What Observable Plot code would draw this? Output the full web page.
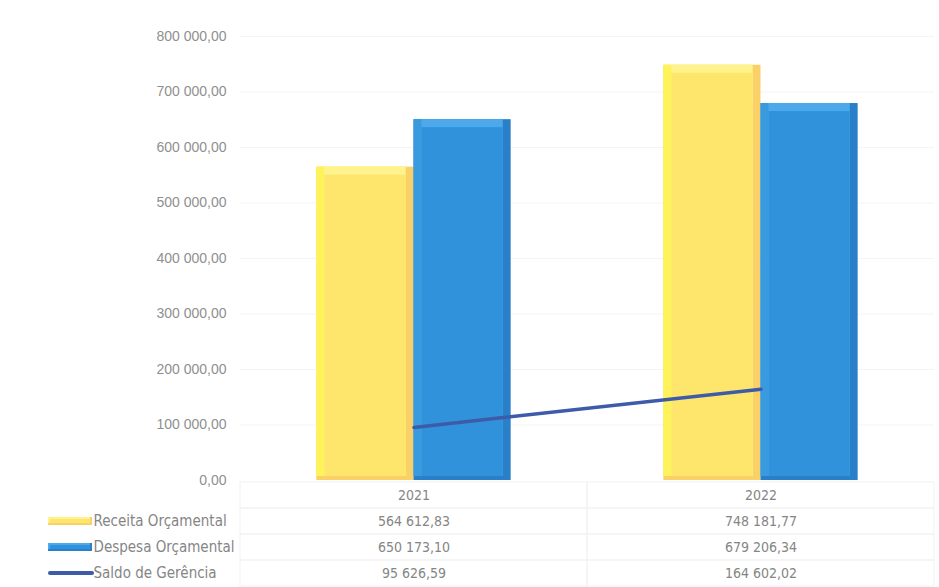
<!DOCTYPE html>
<html>
<head>
<meta charset="utf-8">
<script src="https://cdn.jsdelivr.net/npm/d3@7"></script>
<script src="https://cdn.jsdelivr.net/npm/@observablehq/plot@0.6"></script>
<style>
  html, body { margin: 0; padding: 0; background: #fff; }
  #wrap { position: relative; width: 939px; height: 587px; overflow: hidden; }
  #wrap svg { position: absolute; left: 0; }
</style>
</head>
<body>
<div id="wrap"></div>
<script>
const years = [2021, 2022];
const seriesNames = ["Receita Orçamental", "Despesa Orçamental", "Saldo de Gerência"];
const receita = [564612.83, 748181.77];
const despesa = [650173.10, 679206.34];
const saldo = [95626.59, 164602.02];
const yTicks = [0, 100000, 200000, 300000, 400000, 500000, 600000, 700000, 800000];

const locale = d3.formatLocale({decimal: ",", thousands: " ", grouping: [3], currency: ["", ""]});
const fmt = locale.format(",.2f");

const barW = 0.28;
const receitaData = years.map((y, i) => ({year: y, v: receita[i]}));
const despesaData = years.map((y, i) => ({year: y, v: despesa[i]}));
const saldoData = years.map((y, i) => ({year: y, v: saldo[i]}));

const Y = {dark: "#f9d168", light: "#fff35a", top: "#fff38e", main: "#fee56c"};
const B = {dark: "#2a80c8", light: "#3a9ae0", top: "#4ea8ec", main: "#3192dc"};

function bevel(data, side, c) {
  const x1 = side === "L" ? (d => d.year - barW) : (d => d.year);
  const x2 = side === "L" ? (d => d.year) : (d => d.year + barW);
  return [
    Plot.rectY(data, {x1, x2, y1: 0, y2: "v", fill: c.dark}),
    Plot.rectY(data, {x1, x2, y1: 0, y2: "v", fill: c.light, insetRight: 8, insetBottom: 4}),
    Plot.rectY(data, {x1, x2, y1: 0, y2: "v", fill: c.top, insetRight: 8, insetLeft: 8, insetBottom: 4}),
    Plot.rectY(data, {x1, x2, y1: 0, y2: "v", fill: c.main, insetLeft: 8, insetRight: 8, insetTop: 8, insetBottom: 4})
  ];
}

const font = "'Liberation Sans', Arial, sans-serif";
const fontNarrow = "'Liberation Sans Narrow', 'DejaVu Sans Condensed', sans-serif";

const chart = Plot.plot({
  width: 939,
  height: 490,
  marginTop: 36,
  marginBottom: 10,
  marginLeft: 240,
  marginRight: 5,
  style: {fontFamily: font, fontSize: "14px", background: "transparent"},
  x: {type: "linear", domain: [2020.5, 2022.5], axis: null},
  y: {domain: [0, 800000], axis: null},
  marks: [
    Plot.ruleY(yTicks.slice(1), {stroke: "#f4f4f4"}),
    Plot.axisY(yTicks, {tickFormat: fmt, tickSize: 0, tickPadding: 14, color: "#8f8f8f", fontSize: 14, label: null}),
    ...bevel(receitaData, "L", Y),
    ...bevel(despesaData, "R", B),
    Plot.line(saldoData, {x: "year", y: "v", stroke: "#3d5ba8", strokeWidth: 3.5})
  ]
});
chart.style.top = "0px";

const rowKeys = ["Ano", ...seriesNames];
const cells = [];
years.forEach((y, i) => {
  cells.push({year: y, row: "Ano", text: String(y)});
  cells.push({year: y, row: seriesNames[0], text: fmt(receita[i])});
  cells.push({year: y, row: seriesNames[1], text: fmt(despesa[i])});
  cells.push({year: y, row: seriesNames[2], text: fmt(saldo[i])});
});

const table = Plot.plot({
  width: 939,
  height: 107,
  marginTop: 0,
  marginBottom: 0,
  marginLeft: 240,
  marginRight: 5,
  style: {fontFamily: fontNarrow, fontSize: "14px", background: "transparent"},
  x: {type: "linear", domain: [2020.5, 2022.5], axis: null},
  y: {type: "band", domain: rowKeys, padding: 0, axis: null},
  marks: [
    Plot.barX(cells, {x1: d => d.year - 0.5, x2: d => d.year + 0.5, y: "row", fill: "none", stroke: "#f2f2f2"}),
    Plot.text(cells, {x: "year", y: "row", text: "text", fill: "#858585", fontSize: 14}),
    Plot.text(seriesNames, {y: d => d, text: d => d, frameAnchor: "left", dx: -147, textAnchor: "start", fill: "#858585", fontSize: 15})
  ]
});
table.style.top = "480px";

const wrap = document.getElementById("wrap");
wrap.appendChild(chart);
wrap.appendChild(table);

// legend keys for the data table
const ys = table.scale("y");
const svg = d3.select(table);
const keyColors = [Y, B];
seriesNames.forEach((name, i) => {
  const cy = ys.apply(name) + ys.bandwidth / 2;
  if (i < 2) {
    const c = keyColors[i];
    svg.append("rect").attr("x", 48).attr("y", cy - 4).attr("width", 44).attr("height", 8).attr("fill", c.dark);
    svg.append("rect").attr("x", 48).attr("y", cy - 4).attr("width", 42).attr("height", 6).attr("fill", c.top);
    svg.append("rect").attr("x", 50).attr("y", cy - 2).attr("width", 40).attr("height", 4).attr("fill", c.main);
  } else {
    svg.append("line").attr("x1", 50).attr("x2", 92).attr("y1", cy).attr("y2", cy)
      .attr("stroke", "#3d5ba8").attr("stroke-width", 4).attr("stroke-linecap", "round");
  }
});
</script>
</body>
</html>
